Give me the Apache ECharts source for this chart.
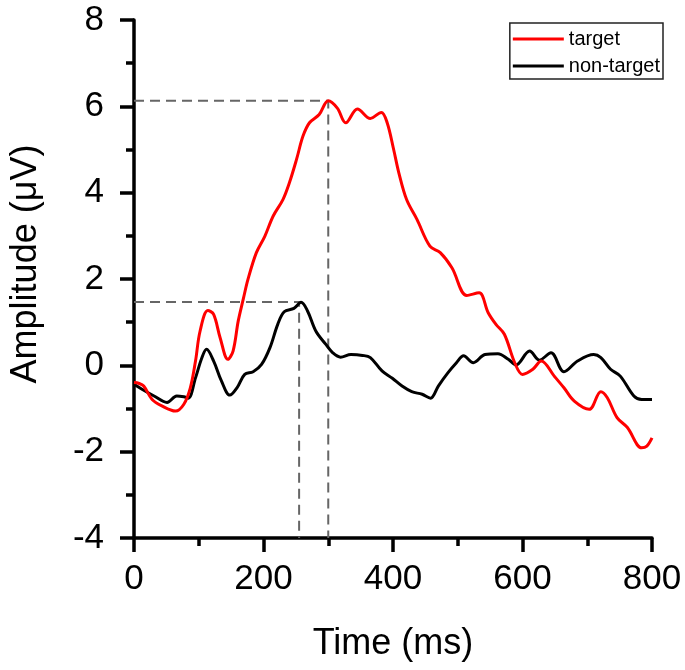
<!DOCTYPE html>
<html>
<head>
<meta charset="utf-8">
<script src="https://cdn.jsdelivr.net/npm/echarts@6/dist/echarts.min.js"></script>
<style>html,body{margin:0;padding:0;background:#fff}#c{width:685px;height:670px}</style>
</head>
<body>
<div id="c"></div>
<script>
var targetTime = [0,8,15,28,43,64,77,87,95,102,114,123,133,145,153,161,169,176,189,202,215,230,240,251,261,271,286,300,314,327,345,365,382,391,401,409,421,437,457,473,491,514,533,547,559,572,588,600,616,629,649,664,680,703,721,731,746,762,784,792,800];
var targetAmp = [-0.40,-0.42,-0.48,-0.79,-0.94,-1.06,-0.90,-0.52,0.10,0.79,1.27,1.18,0.64,0.14,0.33,1.03,1.55,1.99,2.61,2.99,3.46,3.84,4.23,4.77,5.31,5.62,5.81,6.13,5.96,5.62,5.94,5.72,5.86,5.62,5.00,4.46,3.84,3.38,2.76,2.61,2.26,1.62,1.68,1.22,0.95,0.72,0.06,-0.21,-0.09,0.10,-0.25,-0.52,-0.83,-1.02,-0.61,-0.75,-1.21,-1.44,-1.91,-1.87,-1.68];
var nonTargetTime = [0,13,31,51,66,77,84,95,105,112,123,135,148,159,171,184,197,210,222,232,247,258,268,281,296,307,319,335,353,365,383,399,414,429,445,458,470,485,498,509,524,542,562,578,590,611,626,644,664,685,710,721,736,751,772,784,800];
var nonTargetAmp = [-0.44,-0.56,-0.71,-0.86,-0.71,-0.73,-0.76,-0.29,0.18,0.37,0.10,-0.36,-0.69,-0.52,-0.21,-0.15,0.02,0.41,0.95,1.24,1.32,1.46,1.26,0.79,0.49,0.29,0.19,0.25,0.23,0.18,-0.13,-0.30,-0.48,-0.61,-0.67,-0.76,-0.48,-0.17,0.06,0.22,0.06,0.25,0.27,0.14,0.01,0.33,0.12,0.29,-0.15,0.10,0.25,0.18,-0.09,-0.25,-0.71,-0.79,-0.79];
var peakTime = [300, 255];
var peakAmp = [6.13, 1.47];
var xTicks = [0, 200, 400, 600, 800];
var yTicks = [-4, -2, 0, 2, 4, 6, 8];

function pairs(xs, ys){ return xs.map(function(x,i){ return [x, ys[i]]; }); }
var FONT = '"Liberation Sans", Arial, sans-serif';
var dashStyle = {color:'#666', width:2, type:[10,6]};
function guide(i){
  return {type:'line', silent:true, symbol:'none', animation:false, z:1,
    lineStyle:dashStyle,
    data:[[xTicks[0], peakAmp[i]],[peakTime[i], peakAmp[i]],[peakTime[i], yTicks[0]]]};
}
var chart = echarts.init(document.getElementById('c'), null, {renderer:'canvas'});
chart.setOption({
  animation:false,
  backgroundColor:'#fff',
  grid:{left:130, top:20, width:522, height:518, containLabel:false},
  legend:{
    data:['target','non-target'], orient:'vertical', right:22, top:23,
    icon:'rect', itemWidth:51, itemHeight:3, itemGap:7, itemTextGap:5,
    padding:[6,3,3,3], borderColor:'#222', borderWidth:1.5, borderRadius:0,
    textStyle:{fontFamily:FONT, fontSize:20, color:'#000'}
  },
  xAxis:{
    type:'value', min:xTicks[0], max:xTicks[xTicks.length-1], interval:200,
    name:'Time (ms)', nameLocation:'middle', nameGap:88,
    nameTextStyle:{fontFamily:FONT, fontSize:36, color:'#000'},
    axisLine:{show:true, onZero:false, lineStyle:{color:'#000', width:3.5}},
    axisTick:{show:true, inside:false, length:14, lineStyle:{color:'#000', width:3.5}},
    minorTick:{show:true, splitNumber:2, length:8, lineStyle:{color:'#000', width:3.5}},
    axisLabel:{fontFamily:FONT, fontSize:35, color:'#000', margin:24},
    splitLine:{show:false}
  },
  yAxis:{
    type:'value', min:yTicks[0], max:yTicks[yTicks.length-1], interval:2,
    name:'Amplitude (μV)', nameLocation:'middle', nameGap:90, nameRotate:90,
    nameTextStyle:{fontFamily:FONT, fontSize:36, color:'#000', padding:[0,0,0,30]},
    axisLine:{show:true, onZero:false, lineStyle:{color:'#000', width:3.5}},
    axisTick:{show:true, inside:false, length:14, lineStyle:{color:'#000', width:3.5}},
    minorTick:{show:true, splitNumber:2, length:8, lineStyle:{color:'#000', width:3.5}},
    axisLabel:{fontFamily:FONT, fontSize:35, color:'#000', margin:30},
    splitLine:{show:false}
  },
  series:[
    guide(0), guide(1),
    {name:'target', type:'line', data:pairs(targetTime, targetAmp), smooth:0.35, symbol:'none', showSymbol:false,
     itemStyle:{color:'#ff0000'}, lineStyle:{color:'#ff0000', width:3}, z:3},
    {name:'non-target', type:'line', data:pairs(nonTargetTime, nonTargetAmp), smooth:0.35, symbol:'none', showSymbol:false,
     itemStyle:{color:'#000'}, lineStyle:{color:'#000', width:3}, z:2}
  ]
});
</script>
</body>
</html>
